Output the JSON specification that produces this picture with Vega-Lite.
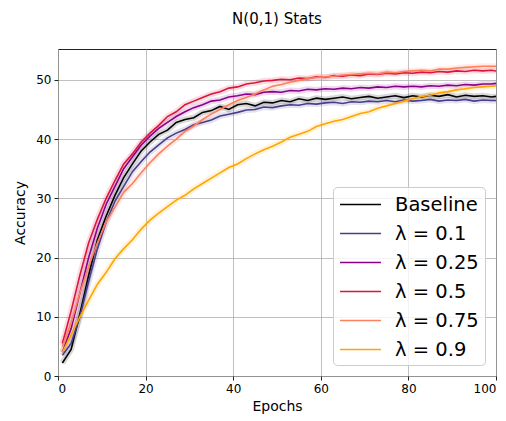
{
  "$schema": "https://vega.github.io/schema/vega-lite/v6.json",
  "width": 438,
  "height": 327,
  "autosize": {"type": "none"},
  "padding": {"left": 58, "top": 49, "right": 10, "bottom": 45},
  "title": {"text": "N(0,1) Stats", "fontSize": 15, "font": "DejaVu Sans", "fontWeight": "normal", "anchor": "middle", "offset": 22, "color": "black"},
  "config": {
    "font": "DejaVu Sans",
    "view": {"stroke": "#222222", "strokeWidth": 1},
    "axis": {"labelFont": "DejaVu Sans", "labelFontSize": 12, "labelColor": "black", "titleFont": "DejaVu Sans", "titleFontSize": 14, "titleFontWeight": "normal", "titleColor": "black", "tickColor": "#222222", "tickSize": 4, "domain": false, "gridColor": "#b0b0b0", "gridWidth": 0.8, "labelPadding": 3}
  },
  "data": {"values": [
    {"e":1,"B":2.2,"L1":3.5,"L25":4,"L5":5.5,"L75":5,"L9":4},
    {"e":3,"B":4.5,"L1":5.5,"L25":8,"L5":11,"L75":9,"L9":7},
    {"e":5,"B":10.5,"L1":10,"L25":14,"L5":17,"L75":14,"L9":10},
    {"e":7,"B":17,"L1":16,"L25":20,"L5":22.5,"L75":18.5,"L9":12.8},
    {"e":9,"B":23,"L1":21.5,"L25":25,"L5":26.5,"L75":22.5,"L9":15.5},
    {"e":11,"B":27,"L1":26,"L25":29,"L5":30,"L75":26,"L9":17.5},
    {"e":13,"B":30.5,"L1":29.5,"L25":32,"L5":33,"L75":28.5,"L9":19.8},
    {"e":15,"B":33.5,"L1":32,"L25":35,"L5":35.8,"L75":31,"L9":21.5},
    {"e":17,"B":35.8,"L1":34.5,"L25":37,"L5":37.5,"L75":32.5,"L9":23},
    {"e":19,"B":38,"L1":36.2,"L25":39,"L5":39.5,"L75":34.3,"L9":24.8},
    {"e":21,"B":39.5,"L1":37.8,"L25":40.5,"L5":41,"L75":36,"L9":26.3},
    {"e":23,"B":40.8,"L1":39,"L25":41.8,"L5":42.3,"L75":37.5,"L9":27.5},
    {"e":25,"B":41.5,"L1":40.2,"L25":42.8,"L5":43.8,"L75":38.8,"L9":28.6},
    {"e":27,"B":42.8,"L1":41,"L25":43.8,"L5":44.6,"L75":40,"L9":29.7},
    {"e":29,"B":43.3,"L1":41.6,"L25":44.6,"L5":45.8,"L75":41.3,"L9":30.5},
    {"e":31,"B":43.6,"L1":42.4,"L25":45.3,"L5":46.4,"L75":42.2,"L9":31.6},
    {"e":33,"B":44.5,"L1":42.8,"L25":45.8,"L5":47,"L75":43.3,"L9":32.5},
    {"e":35,"B":44.8,"L1":43.2,"L25":46.4,"L5":47.6,"L75":44.2,"L9":33.4},
    {"e":37,"B":45.5,"L1":43.9,"L25":46.6,"L5":48,"L75":45,"L9":34.3},
    {"e":39,"B":45,"L1":44.2,"L25":47.1,"L5":48.6,"L75":45.8,"L9":35.2},
    {"e":41,"B":45.8,"L1":44.5,"L25":47.3,"L5":48.8,"L75":46.5,"L9":35.8},
    {"e":43,"B":46,"L1":44.9,"L25":47.6,"L5":49.3,"L75":47,"L9":36.7},
    {"e":45,"B":45.6,"L1":45,"L25":47.5,"L5":49.5,"L75":47.6,"L9":37.5},
    {"e":47,"B":46.2,"L1":45.4,"L25":47.9,"L5":49.8,"L75":48.3,"L9":38.2},
    {"e":49,"B":46.1,"L1":45.3,"L25":48,"L5":49.9,"L75":48.9,"L9":38.8},
    {"e":51,"B":46.5,"L1":45.6,"L25":47.9,"L5":50.1,"L75":49.2,"L9":39.5},
    {"e":53,"B":46.3,"L1":45.8,"L25":48.2,"L5":50,"L75":49.6,"L9":40.3},
    {"e":55,"B":46.8,"L1":45.7,"L25":48.1,"L5":50.3,"L75":49.9,"L9":40.8},
    {"e":57,"B":46.5,"L1":46,"L25":48.4,"L5":50.2,"L75":50.2,"L9":41.3},
    {"e":59,"B":46.9,"L1":45.9,"L25":48.3,"L5":50.5,"L75":50.4,"L9":42.1},
    {"e":61,"B":46.7,"L1":46.1,"L25":48.5,"L5":50.4,"L75":50.5,"L9":42.6},
    {"e":63,"B":46.9,"L1":46.2,"L25":48.4,"L5":50.7,"L75":50.6,"L9":43},
    {"e":65,"B":47.1,"L1":46,"L25":48.6,"L5":50.6,"L75":50.8,"L9":43.3},
    {"e":67,"B":46.8,"L1":46.3,"L25":48.5,"L5":50.8,"L75":50.9,"L9":43.8},
    {"e":69,"B":47,"L1":46.2,"L25":48.7,"L5":50.7,"L75":51,"L9":44.3},
    {"e":71,"B":47.2,"L1":46.4,"L25":48.6,"L5":51,"L75":51.1,"L9":44.6},
    {"e":73,"B":46.9,"L1":46.3,"L25":48.8,"L5":50.9,"L75":51,"L9":45.2},
    {"e":75,"B":47.1,"L1":46.5,"L25":48.7,"L5":51.1,"L75":51.3,"L9":45.6},
    {"e":77,"B":47.3,"L1":46.3,"L25":48.9,"L5":51,"L75":51.2,"L9":46},
    {"e":79,"B":47,"L1":46.6,"L25":48.8,"L5":51.2,"L75":51.4,"L9":46.4},
    {"e":81,"B":47.3,"L1":46.4,"L25":48.9,"L5":51.1,"L75":51.5,"L9":46.8},
    {"e":83,"B":47.1,"L1":46.5,"L25":48.8,"L5":51.3,"L75":51.6,"L9":47.2},
    {"e":85,"B":47.4,"L1":46.7,"L25":49,"L5":51.2,"L75":51.5,"L9":47.4},
    {"e":87,"B":47.2,"L1":46.4,"L25":48.9,"L5":51.4,"L75":51.8,"L9":47.8},
    {"e":89,"B":47.5,"L1":46.6,"L25":49.1,"L5":51.3,"L75":51.8,"L9":48},
    {"e":91,"B":47.1,"L1":46.5,"L25":49,"L5":51.5,"L75":52,"L9":48.3},
    {"e":93,"B":47.4,"L1":46.7,"L25":49.2,"L5":51.4,"L75":52.1,"L9":48.5},
    {"e":95,"B":47.2,"L1":46.4,"L25":49.1,"L5":51.6,"L75":52.2,"L9":48.7},
    {"e":97,"B":47.3,"L1":46.6,"L25":49.3,"L5":51.5,"L75":52.3,"L9":48.8},
    {"e":99,"B":47.1,"L1":46.5,"L25":49.3,"L5":51.6,"L75":52.3,"L9":48.9},
    {"e":100,"B":47.2,"L1":46.5,"L25":49.4,"L5":51.5,"L75":52.3,"L9":49}
  ]},
  "transform": [{"fold": ["B", "L1", "L25", "L5", "L75", "L9"], "as": ["s", "v"]}],
  "encoding": {
    "x": {"field": "e", "type": "quantitative", "title": "Epochs", "scale": {"domain": [0, 100], "nice": false}, "axis": {"values": [0, 20, 40, 60, 80, 100], "titlePadding": 5}},
    "y": {"field": "v", "type": "quantitative", "title": "Accuracy", "scale": {"domain": [0, 55.2], "nice": false}, "axis": {"values": [0, 10, 20, 30, 40, 50], "titlePadding": 8}}
  },
  "resolve": {"scale": {"color": "independent"}, "legend": {"color": "independent"}},
  "layer": [
    {
      "mark": {"type": "line", "strokeWidth": 6, "opacity": 0.15, "strokeJoin": "round"},
      "encoding": {"color": {"field": "s", "type": "nominal", "scale": {"domain": ["B", "L1", "L25", "L5", "L75", "L9"], "range": ["#000000", "#483d8b", "#8b008b", "#dc143c", "#fd7f5e", "#ffa500"]}, "legend": null}}
    },
    {
      "mark": {"type": "line", "strokeWidth": 1.6},
      "encoding": {"color": {"field": "s", "type": "nominal", "scale": {"domain": ["B", "L1", "L25", "L5", "L75", "L9"], "range": ["#000000", "#483d8b", "#8b008b", "#dc143c", "#fd7f5e", "#ffa500"]},
        "legend": {"orient": "none", "legendX": 275, "legendY": 138, "title": null, "labelFontSize": 19.5, "labelFont": "DejaVu Sans", "labelColor": "black", "labelLimit": 200,
          "labelExpr": "datum.value == 'B' ? 'Baseline' : 'λ = 0.' + slice(datum.value, 1)",
          "symbolType": "M-1.95,0H1.95", "symbolSize": 441, "symbolStrokeWidth": 1.6, "symbolOffset": 10, "rowPadding": 8, "padding": 6, "labelOffset": 23,
          "fillColor": "rgba(255,255,255,0.8)", "strokeColor": "#cccccc", "cornerRadius": 4}}}
    }
  ]
}
